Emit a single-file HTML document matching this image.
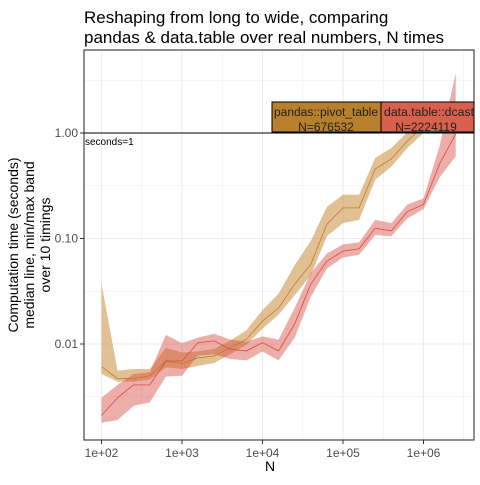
<!DOCTYPE html>
<html><head><meta charset="utf-8"><style>
body{margin:0;background:#fff;font-family:"Liberation Sans",sans-serif}
svg text{font-family:"Liberation Sans",sans-serif}
</style></head><body>
<svg id="chart" width="480" height="480" xmlns="http://www.w3.org/2000/svg">
<text x="84" y="23" font-size="17" fill="#000">Reshaping from long to wide, comparing</text>
<text x="84" y="43" font-size="17" fill="#000">pandas &amp; data.table over real numbers, N times</text>
<g id="grid"></g>
<g id="marks"></g>
<rect x="84" y="50" width="390" height="390" fill="none" stroke="#333" stroke-width="1.1"/>
<line x1="84" x2="474" y1="133" y2="133" stroke="#000" stroke-width="1"/>
<text x="85" y="145" font-size="10" fill="#000">seconds=1</text>
<g id="axes"></g>
<text x="270" y="471" font-size="14" text-anchor="middle">N</text>
<g font-size="14" text-anchor="middle">
<text transform="translate(18,245) rotate(-90)">Computation time (seconds)</text>
<text transform="translate(34,245) rotate(-90)">median line, min/max band</text>
<text transform="translate(50,245) rotate(-90)">over 10 timings</text>
</g>
</svg>
<script>
const logN = [2,2.2,2.4,2.6,2.8,3,3.2,3.4,3.6,3.8,4,4.2,4.4,4.6,4.8,5,5.2,5.4,5.6,5.8,6,6.2,6.4];
const pandasMedian = [0.0061,0.0047,0.0047,0.0050,0.0069,0.0065,0.0074,0.0077,0.0092,0.0111,0.0165,0.022,0.037,0.057,0.137,0.195,0.195,0.456,0.568,0.84,1.16];
const pandasMax = [0.037,0.0056,0.0058,0.0058,0.0092,0.0083,0.0085,0.0090,0.0108,0.0135,0.021,0.030,0.056,0.095,0.20,0.26,0.26,0.58,0.72,1.02,1.4];
const pandasMin = [0.0052,0.0044,0.0044,0.0046,0.0060,0.0058,0.0062,0.0066,0.0080,0.0098,0.0140,0.019,0.029,0.045,0.105,0.140,0.15,0.36,0.48,0.72,1.0];
const dtMedian = [0.0021,0.0031,0.0041,0.0041,0.0069,0.0069,0.0103,0.0107,0.0089,0.0086,0.0103,0.0086,0.0155,0.037,0.061,0.076,0.08,0.125,0.118,0.18,0.21,0.51,0.98];
const dtMax = [0.0031,0.0041,0.0052,0.0054,0.0122,0.0102,0.0115,0.0125,0.0110,0.0105,0.0118,0.0110,0.022,0.047,0.072,0.088,0.092,0.15,0.14,0.21,0.24,0.75,3.7];
const dtMin = [0.0018,0.0019,0.0026,0.0028,0.0049,0.0050,0.0078,0.0080,0.0072,0.0070,0.0085,0.0070,0.0115,0.028,0.052,0.066,0.07,0.108,0.105,0.155,0.19,0.38,0.6];
const xTicks = [2,3,4,5,6];
const xTickLabels = ["1e+02","1e+03","1e+04","1e+05","1e+06"];
const yTicks = [0,-1,-2];
const yTickLabels = ["1.00","0.10","0.01"];
const NS='http://www.w3.org/2000/svg';
const X = l => 101.5 + (l-2)*80.5;
const Y = s => 133 - Math.log10(s)*105.5;
const YL = l => 133 - l*105.5;
function mk(tag, attrs, parent){const e=document.createElementNS(NS,tag);for(const k in attrs)e.setAttribute(k,attrs[k]);parent.appendChild(e);return e;}
const grid=document.getElementById('grid'), marks=document.getElementById('marks'), axes=document.getElementById('axes');
mk('rect',{x:84,y:50,width:390,height:390,fill:'#fff'},grid);
for(let l=1.5;l<=6.6;l+=0.5){const x=X(l);if(x<84||x>474)continue;
  const g=mk('line',{x1:x,x2:x,y1:50,y2:440,stroke:'#ebebeb','stroke-width':l%1===0?1.1:0.6},grid);
  
  }
for(let l=0.5;l>=-3;l-=0.5){const y=YL(l);if(y<50||y>440)continue;
  const g=mk('line',{x1:84,x2:474,y1:y,y2:y,stroke:'#ebebeb','stroke-width':l%1===0?1.1:0.6},grid);
  
  }
const clip=mk('clipPath',{id:'pc'},document.getElementById('chart'));
mk('rect',{x:84,y:50,width:390,height:390},clip);
marks.setAttribute('clip-path','url(#pc)');
function band(mn,mx,fill,name){
  let d='';for(let i=0;i<mx.length;i++)d+=(i?'L':'M')+X(logN[i])+','+Y(mx[i]);
  for(let i=mn.length-1;i>=0;i--)d+='L'+X(logN[i])+','+Y(mn[i]);
  const p=mk('path',{d:d+'Z',fill:fill},marks);
  
  }
function line(md,col,name){
  const p=mk('polyline',{points:md.map((v,i)=>X(logN[i])+','+Y(v)).join(' '),fill:'none',stroke:col,'stroke-width':0.8},marks);
  
  }
band(pandasMin,pandasMax,'rgba(200,140,60,0.55)','pandas-band');
band(dtMin,dtMax,'rgba(215,75,65,0.45)','datatable-band');
line(pandasMedian,'#c07a22','pandas-median-line');
line(dtMedian,'#d94a3c','datatable-median-line');
xTicks.forEach((l,i)=>{const x=X(l);
  const t=mk('line',{x1:x,x2:x,y1:440,y2:444,stroke:'#333'},axes);
  
  
  const tx=mk('text',{x:x,y:457,'font-size':12,fill:'#4d4d4d','text-anchor':'middle'},axes);tx.textContent=xTickLabels[i];
  
  });
yTicks.forEach((l,i)=>{const y=YL(l);
  const t=mk('line',{x1:80,x2:84,y1:y,y2:y,stroke:'#333'},axes);
  
  
  const tx=mk('text',{x:78,y:y+4,'font-size':12,fill:'#4d4d4d','text-anchor':'end'},axes);tx.textContent=yTickLabels[i];
  
  });
</script>
<svg style="position:absolute;left:0;top:0" width="480" height="480">
<g>
<rect x="272" y="102" width="109" height="30" fill="#b8802c" stroke="#000" stroke-width="1"/>
<text x="326" y="116" font-size="11.5" text-anchor="middle" fill="#222" textLength="104" lengthAdjust="spacingAndGlyphs">pandas::pivot_table</text>
<text x="326" y="131" font-size="12" text-anchor="middle" fill="#222">N=676532</text>
</g>
<g>
<rect x="381" y="102" width="93" height="30" fill="#d9604c" stroke="#000" stroke-width="1"/>
<text x="384" y="116" font-size="11.5" fill="#222" textLength="90" lengthAdjust="spacingAndGlyphs">data.table::dcast</text>
<text x="426" y="131" font-size="12" text-anchor="middle" fill="#222">N=2224119</text>
</g>
</svg>
</body></html>
